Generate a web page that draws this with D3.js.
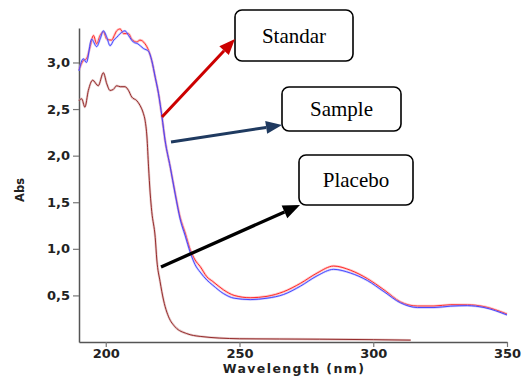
<!DOCTYPE html>
<html><head><meta charset="utf-8">
<script src="https://cdn.jsdelivr.net/npm/d3@7"></script>
<style>body{margin:0;background:#fff}svg{display:block}</style>
</head><body>
<svg id="c" width="524" height="376"></svg>
<script>
// ---- data ----
const wlStd  = [190,191.6,192.8,194,195.4,196.6,197.9,199.1,200.4,202.2,203.2,204.1,205.4,206.6,208.5,209.7,211.6,212.8,214.7,216,217.2,218.5,219.7,221.0,222.2,224.1,226,227.8,229.7,231.6,233.4,235.3,237.8,240,244,248,254,260.3,266.5,272.8,279,285.2,291.5,297.8,304,310.2,316.5,322.7,329,335.2,341.4,350];
const absStd = [2.92,3.02,3.04,3.15,3.29,3.20,3.29,3.33,3.25,3.24,3.29,3.34,3.36,3.31,3.31,3.25,3.22,3.24,3.20,3.13,3.02,2.84,2.67,2.42,2.16,1.88,1.59,1.34,1.17,0.99,0.88,0.81,0.70,0.65,0.56,0.50,0.475,0.49,0.54,0.63,0.74,0.815,0.77,0.68,0.56,0.43,0.386,0.386,0.40,0.40,0.38,0.30];
const wlSam  = [190,191.6,192.8,194.7,196.6,198,199.1,200.4,201.6,203,204.1,205.4,207.2,208.5,210.3,212,214.1,216,217.2,218.5,219.7,221.0,222.2,224.1,226,227.8,229.7,231.6,233.4,235.3,237.8,240,244,248,254,260.3,266.5,272.8,279,285.2,291.5,297.8,304,310.2,316.5,322.7,329,335.2,341.4,350];
const absSam = [2.91,3.04,3.00,3.25,3.17,3.26,3.34,3.27,3.18,3.24,3.27,3.31,3.34,3.29,3.22,3.20,3.15,3.12,3.02,2.84,2.67,2.42,2.16,1.88,1.58,1.32,1.14,0.96,0.83,0.75,0.665,0.61,0.52,0.47,0.455,0.47,0.51,0.60,0.71,0.78,0.74,0.66,0.54,0.42,0.37,0.37,0.385,0.39,0.37,0.29];
const wlPla  = [190,191,192.2,193.5,195.1,197.2,199.1,200.4,201.6,202.8,204.1,205.4,207.2,208.5,209.7,211.6,212.8,214.1,214.7,215.4,216,216.6,217.2,218.5,219.1,220.3,221.6,222.2,223.5,226,230.3,235.3,250,280,300,314];
const absPla = [2.59,2.61,2.52,2.70,2.81,2.75,2.89,2.77,2.70,2.71,2.75,2.74,2.74,2.70,2.63,2.59,2.54,2.45,2.38,2.20,1.88,1.60,1.40,1.12,0.88,0.65,0.45,0.38,0.27,0.16,0.09,0.06,0.035,0.03,0.025,0.02];
const xTicks = [200,250,300,350];
const yTicks = [0.5,1.0,1.5,2.0,2.5,3.0];
const labels = ["Standar","Sample","Placebo"];

// ---- chart ----
const svg = d3.select("#c");
const x = d3.scaleLinear().domain([190,350]).range([79,507]);
const y = d3.scaleLinear().domain([0,3.37]).range([342,28]);
const fmt = d => d3.format(".1f")(d).replace(".", ",");

const line = (wl, ab) => d3.line().x((d,i)=>x(wl[i])).y(d=>y(d)).curve(d3.curveMonotoneX)(ab);

// axes
const gy = svg.append("g").attr("transform","translate(79,0)")
  .call(d3.axisLeft(y).tickValues(yTicks).tickFormat(fmt).tickSize(6).tickSizeOuter(0));
const gx = svg.append("g").attr("transform","translate(0,342)")
  .call(d3.axisBottom(x).tickValues(xTicks).tickFormat(d3.format("d")).tickSize(5).tickSizeOuter(0));
[gy,gx].forEach(g=>{
  g.select(".domain").attr("stroke","#555").attr("stroke-width",1.5);
  g.selectAll(".tick line").attr("stroke","#777").attr("stroke-width",1.2);
  g.selectAll("text").attr("font-family","DejaVu Sans").attr("font-weight","bold").attr("font-size",13).attr("fill","#222");
});
gy.selectAll("text").attr("x",-9);
gx.selectAll("text").attr("y",6.5);

// series
function drawSeries(wl, ab, halo, core, wHalo, wCore){
  svg.append("path").attr("d",line(wl,ab)).attr("fill","none").attr("stroke",halo).attr("stroke-width",wHalo).attr("opacity",0.55);
  svg.append("path").attr("d",line(wl,ab)).attr("fill","none").attr("stroke",core).attr("stroke-width",wCore);
}
drawSeries(wlPla, absPla, "#d29a9a", "#8b1a1a", 2.4, 0.9);
drawSeries(wlStd, absStd, "#ff9a9a", "#ff2a2a", 2.6, 1.0);
drawSeries(wlSam, absSam, "#a0a0ff", "#3a3aff", 2.2, 0.9);

// axis titles
svg.append("text").attr("transform","translate(24,190) rotate(-90)").attr("text-anchor","middle")
  .attr("font-family","DejaVu Sans").attr("font-weight","bold").attr("font-size",11.5).attr("fill","#222").text("Abs");
svg.append("text").attr("x",294).attr("y",372.5).attr("text-anchor","middle").attr("letter-spacing",1.4)
  .attr("font-family","DejaVu Sans").attr("font-weight","bold").attr("font-size",12.5).attr("fill","#222").text("Wavelength (nm)");

// annotation boxes
const boxes = [
  {x:235,y:10,w:118,h:51},
  {x:282,y:87,w:119,h:44},
  {x:299,y:155,w:114,h:50}
];
boxes.forEach((b,i)=>{
  svg.append("rect").attr("x",b.x).attr("y",b.y).attr("width",b.w).attr("height",b.h).attr("rx",7)
    .attr("fill","#fff").attr("stroke","#000").attr("stroke-width",1.6);
  svg.append("text").attr("x",b.x+b.w/2).attr("y",b.y+b.h/2+7).attr("text-anchor","middle")
    .attr("font-family","Liberation Serif").attr("font-size",21).attr("fill","#000").text(labels[i]);
});

// arrows
function arrow(x1,y1,x2,y2,color,w,hl,hw){
  const a = Math.atan2(y2-y1,x2-x1);
  const bx = x2 - hl*Math.cos(a), by = y2 - hl*Math.sin(a);
  svg.append("line").attr("x1",x1).attr("y1",y1).attr("x2",bx).attr("y2",by).attr("stroke",color).attr("stroke-width",w);
  const px = -Math.sin(a)*hw/2, py = Math.cos(a)*hw/2;
  svg.append("polygon").attr("points",`${x2},${y2} ${bx+px},${by+py} ${bx-px},${by-py}`).attr("fill",color);
}
arrow(162,117,235,39,"#cc0000",3,16,13);
arrow(171,142,282,125,"#1f3a60",3,16,13);
arrow(161,267,300,205,"#000",3.3,17,14);
</script>
</body></html>
